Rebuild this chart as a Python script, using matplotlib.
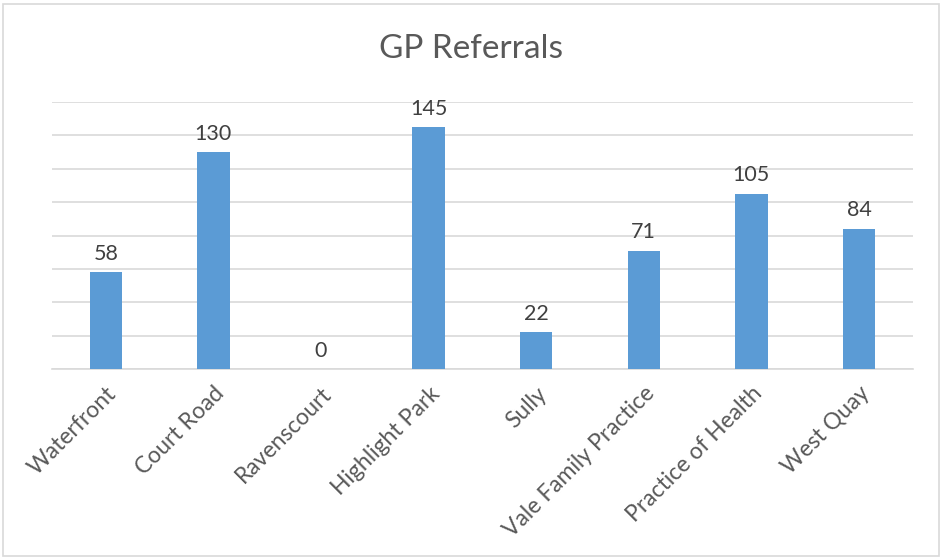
import matplotlib.pyplot as plt
from matplotlib.patches import Rectangle

practices = ['Waterfront', 'Court Road', 'Ravenscourt', 'Highlight Park', 'Sully',
             'Vale Family Practice', 'Practice of Health', 'West Quay']
referrals = [58, 130, 0, 145, 22, 71, 105, 84]

plt.rcParams['font.family'] = ['Lato', 'DejaVu Sans']
text_col = '#595959'

fig = plt.figure(figsize=(9.42, 5.58), dpi=100)
ax = fig.add_axes([0.0552, 0.3387, 0.9138, 0.4785])

x = range(len(practices))
bars = ax.bar(x, referrals, width=0.3, color='#5B9BD5', zorder=3)
for b, v in zip(bars, referrals):
    ax.text(b.get_x() + b.get_width() / 2, v + 5, str(v), ha='center', va='bottom',
            fontsize=15.5, color='#404040')

ax.set_xlim(-0.5, len(practices) - 0.5)
ax.set_ylim(0, 160)
ax.set_yticks(range(0, 161, 20))
ax.yaxis.grid(True, color='#D9D9D9', linewidth=1.2, zorder=0)
ax.tick_params(axis='y', left=False, labelleft=False)
ax.tick_params(axis='x', length=0, pad=10)
ax.set_xticks(list(x))
ax.set_xticklabels(practices, rotation=45, ha='right', rotation_mode='anchor',
                   fontsize=16.5, color=text_col)
for s in ['top', 'right', 'left']:
    ax.spines[s].set_visible(False)
ax.spines['bottom'].set_color('#D9D9D9')
ax.spines['bottom'].set_linewidth(1.2)

fig.text(0.5, 0.912, 'GP Referrals', ha='center', va='center', fontsize=24, color=text_col)
fig.patches.append(Rectangle((0.003, 0.003), 0.994, 0.99, transform=fig.transFigure,
                             fill=False, edgecolor='#D9D9D9', linewidth=1.2))

fig.savefig('out.png', dpi=100)
